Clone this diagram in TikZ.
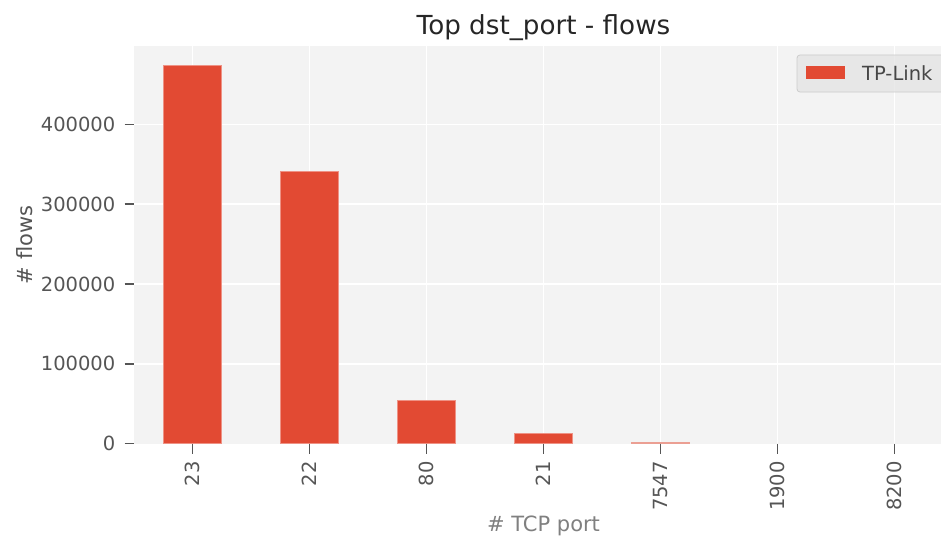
\documentclass[tikz,border=0pt]{standalone}
\usepackage{fontspec}
\setmainfont{DejaVu Sans}
\definecolor{barred}{HTML}{E24A33}
\definecolor{plotbg}{HTML}{F3F3F3}
\definecolor{tickc}{HTML}{555555}
\definecolor{labc}{HTML}{808080}
\definecolor{titc}{HTML}{262626}
\definecolor{legbg}{HTML}{E5E5E5}
\definecolor{legedge}{HTML}{CCCCCC}
\tikzset{
  gridline/.style={draw=white, line width=1.6pt},
  tickmark/.style={draw=tickc, line width=1.6pt},
  bar/.style={fill=barred, draw=barred!60!white, line width=0.6pt},
  yticklab/.style={anchor=east, inner sep=0pt, text=tickc, font=\fontsize{19.5}{22}\selectfont},
  xticklab/.style={anchor=east, rotate=90, inner sep=0pt, text=tickc, font=\fontsize{19.5}{22}\selectfont},
  axlab/.style={inner sep=0pt, text=labc, font=\fontsize{21}{24}\selectfont},
}
\begin{document}
\begin{tikzpicture}[x=1pt, y=-1pt]
\useasboundingbox (0,0) rectangle (941,535);
\clip (0,0) rectangle (941,535);
\fill[white] (0,0) rectangle (941,535);
% plot background
\fill[plotbg] (134,46) rectangle (953,443.5);
% grid
\foreach \i in {0,...,6} {
  \draw[gridline] ({192.5+117*\i},46) -- ({192.5+117*\i},443.5);
}
\foreach \v in {1,2,3,4} {
  \draw[gridline] (134,{443.5-79.75*\v}) -- (953,{443.5-79.75*\v});
}
% bars
\draw[bar] (163.25,65) rectangle (221.75,443.5);
\draw[bar] (280.25,171) rectangle (338.75,443.5);
\draw[bar] (397.25,400.7) rectangle (455.75,443.5);
\draw[bar] (514.25,433) rectangle (572.75,443.5);
\fill[barred!50!plotbg] (631.25,442.3) rectangle (689.75,443.5);
% y ticks
\foreach \v/\t [count=\k] in {0/0,1/100000,2/200000,3/300000,4/400000} {
  \draw[tickmark] (124.5,{443.5-79.75*\v}) -- (134,{443.5-79.75*\v});
  \node[yticklab] (ytl\k) at (115.5,{443.5-79.75*\v}) {\t};
}
% x ticks
\foreach \t [count=\k from 0] in {23,22,80,21,7547,1900,8200} {
  \draw[tickmark] ({192.5+117*\k},443.5) -- ({192.5+117*\k},453.5);
  \node[xticklab] (xtl\k) at ({192.5+117*\k},461) {\t};
}
% labels and title
\node[axlab, anchor=base] (xlabel) at (543.5,531) {\# TCP port};
\node[axlab, anchor=base, rotate=90, text=tickc] (ylabel) at (32,245) {\# flows};
\node[inner sep=0pt, anchor=base, text=titc, font=\fontsize{26.2}{30}\selectfont] (title) at (543.5,35) {Top dst\_port - flows};
% legend
\draw[fill=legbg, fill opacity=0.8, draw=legedge, line width=0.8pt, rounded corners=3pt] (797,55) rectangle (960,92);
\fill[barred] (806,66) rectangle (845,79);
\node[inner sep=0pt, anchor=west, text=titc!85!white, font=\fontsize{19.5}{22}\selectfont] (legtext) at (862,73) {TP-Link};
\end{tikzpicture}
\end{document}
